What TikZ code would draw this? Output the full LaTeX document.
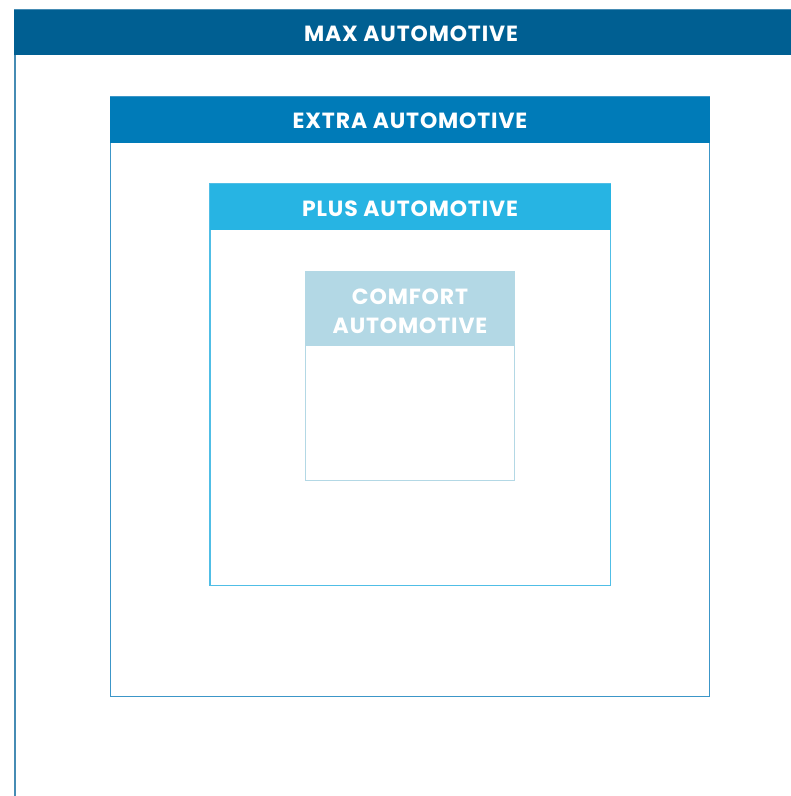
\documentclass[tikz,border=0pt]{standalone}
\usepackage{fontspec}
\setmainfont{Poppins}[LetterSpace=4]
\usepackage{tikz}
\usetikzlibrary{calc}
\definecolor{maxblue}{RGB}{0,95,146}
\definecolor{extrablue}{RGB}{0,123,184}
\definecolor{plusblue}{RGB}{39,180,227}
\definecolor{comfortblue}{RGB}{179,216,229}
\definecolor{maxline}{RGB}{70,140,180}
\definecolor{extraline}{RGB}{60,150,200}
\definecolor{plusline}{RGB}{80,190,230}

\begin{document}
\begin{tikzpicture}[x=0.02cm,y=-0.02cm,
  title/.style={text=white,font=\fontsize{12.5}{15}\selectfont\bfseries,align=center},
  frame/.style={line width=0.9pt}]
\useasboundingbox (0,0) rectangle (791,796);
\clip (0,0) rectangle (791,796);

% max
\draw [frame, maxline] (15,10) rectangle (820,830);
\fill [maxblue] (14,10) rectangle (820,55);
\node [title] (tmax) at (411,33.5) {MAX AUTOMOTIVE};

% extra
\draw [frame, extraline] (110.5,97) rectangle (709.5,696.5);
\fill [extrablue] (110,97) rectangle (710,143);
\node [title] (textra) at (410,121) {EXTRA AUTOMOTIVE};

% plus
\draw [frame, plusline] (210,184) rectangle (610.5,585.5);
\fill [plusblue] (209.5,184) rectangle (611,230);
\node [title] (tplus) at (410,208.5) {PLUS AUTOMOTIVE};

% comfort
\draw [frame, comfortblue] (305.5,272) rectangle (514.5,480.5);
\fill [comfortblue] (305,271.5) rectangle (515,346);
\node [title] (tcomfort) at (410,311) {COMFORT\\[1.5pt]AUTOMOTIVE};
\end{tikzpicture}
\end{document}
